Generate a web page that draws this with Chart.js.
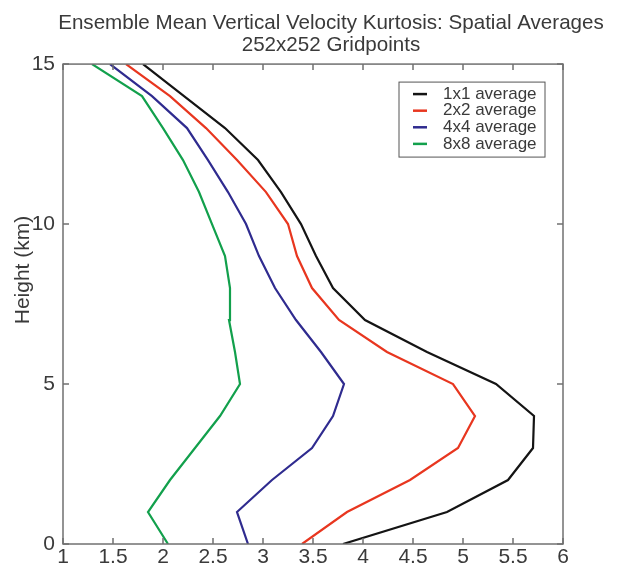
<!DOCTYPE html>
<html>
<head>
<meta charset="utf-8">
<script src="https://cdn.jsdelivr.net/npm/chart.js@4"></script>
<style>
  html, body { margin: 0; padding: 0; background: #fff; }
  #wrap { width: 630px; height: 575px; }
</style>
</head>
<body>
<div id="wrap"><canvas id="kurtosis-chart" width="630" height="575"></canvas></div>
<script>
// heights (km) at which kurtosis was sampled
const heights = [0, 1, 2, 3, 4, 5, 6, 7, 8, 9, 10, 11, 12, 13, 14, 15];
const seriesLabels = ['1x1 average', '2x2 average', '4x4 average', '8x8 average'];
const avg1x1 = [3.80, 4.84, 5.45, 5.70, 5.71, 5.33, 4.64, 4.02, 3.70, 3.53, 3.38, 3.18, 2.95, 2.62, 2.21, 1.80];
const avg2x2 = [3.39, 3.84, 4.47, 4.95, 5.12, 4.90, 4.24, 3.76, 3.49, 3.34, 3.25, 3.03, 2.74, 2.43, 2.07, 1.63];
const avg4x4 = [2.85, 2.74, 3.09, 3.49, 3.70, 3.81, 3.58, 3.33, 3.12, 2.96, 2.83, 2.65, 2.45, 2.24, 1.89, 1.47];
const avg8x8 = [2.05, 1.85, 2.07, 2.32, 2.57, 2.77, 2.72, 2.66, 2.67, 2.62, 2.49, 2.36, 2.20, 2.00, 1.79, 1.29];
const xTicks = [1, 1.5, 2, 2.5, 3, 3.5, 4, 4.5, 5, 5.5, 6];
const yTicks = [0, 5, 10, 15];

const colors = ['#141414', '#e8361f', '#2f2b8f', '#12a04c'];
const axisColor = '#707070';
const textColor = '#3a3a3a';
const fontFamily = '"Liberation Sans", Arial, Helvetica, sans-serif';

function toPoints(values) {
    return values.map((v, i) => ({ x: v, y: heights[i] }));
}

// box around the plot with inward ticks on all four sides, plus y title and legend
const matlabFrame = {
    id: 'matlabFrame',
    afterDraw(chart) {
        const { ctx, chartArea: a, scales } = chart;
        const tick = 6;
        ctx.save();
        ctx.strokeStyle = axisColor;
        ctx.lineWidth = 1.5;
        ctx.strokeRect(a.left, a.top, a.right - a.left, a.bottom - a.top);
        ctx.beginPath();
        xTicks.forEach(t => {
            const px = scales.x.getPixelForValue(t);
            ctx.moveTo(px, a.bottom); ctx.lineTo(px, a.bottom - tick);
            ctx.moveTo(px, a.top); ctx.lineTo(px, a.top + tick);
        });
        yTicks.forEach(t => {
            const py = scales.y.getPixelForValue(t);
            ctx.moveTo(a.left, py); ctx.lineTo(a.left + tick, py);
            ctx.moveTo(a.right, py); ctx.lineTo(a.right - tick, py);
        });
        ctx.stroke();

        // y axis title (sits above the axis centre in the original)
        ctx.fillStyle = textColor;
        ctx.font = '21px ' + fontFamily;
        ctx.textAlign = 'center';
        ctx.textBaseline = 'middle';
        ctx.translate(23, 270);
        ctx.rotate(-Math.PI / 2);
        ctx.fillText('Height (km)', 0, 0);
        ctx.restore();

        // legend box in the upper right corner
        ctx.save();
        const bx = a.right - 164, by = a.top + 18, bw = 146, bh = 75;
        ctx.fillStyle = '#fff';
        ctx.fillRect(bx, by, bw, bh);
        ctx.strokeStyle = '#555';
        ctx.lineWidth = 1;
        ctx.strokeRect(bx, by, bw, bh);
        ctx.font = '17px ' + fontFamily;
        ctx.textBaseline = 'middle';
        chart.data.datasets.forEach((ds, i) => {
            const y = by + 12 + i * 16.6;
            ctx.strokeStyle = ds.borderColor;
            ctx.lineWidth = 2.5;
            ctx.beginPath();
            ctx.moveTo(bx + 14, y);
            ctx.lineTo(bx + 28, y);
            ctx.stroke();
            ctx.fillStyle = textColor;
            ctx.fillText(ds.label, bx + 44, y);
        });
        ctx.restore();
    }
};

const tickFont = { family: fontFamily, size: 21 };

const ctx = document.getElementById('kurtosis-chart').getContext('2d');
new Chart(ctx, {
    type: 'line',
    data: {
        datasets: [avg1x1, avg2x2, avg4x4, avg8x8].map((vals, i) => ({
            label: seriesLabels[i],
            data: toPoints(vals),
            borderColor: colors[i],
            backgroundColor: colors[i],
            borderWidth: 2.2,
            pointRadius: 0,
            fill: false,
            tension: 0
        }))
    },
    options: {
        responsive: false,
        animation: false,
        layout: { padding: { left: 32, right: 0, top: 0, bottom: 0 } },
        scales: {
            x: {
                type: 'linear',
                min: 1,
                max: 6,
                afterBuildTicks: (scale) => { scale.ticks = xTicks.map(v => ({ value: v })); },
                afterFit: (scale) => { scale.height = 31; },
                grid: { display: false, drawTicks: false },
                border: { display: false },
                ticks: {
                    padding: 1,
                    color: textColor,
                    maxRotation: 0,
                    font: tickFont,
                    callback: (value) => String(value)
                }
            },
            y: {
                type: 'linear',
                min: 0,
                max: 15,
                afterBuildTicks: (scale) => { scale.ticks = yTicks.map(v => ({ value: v })); },
                afterFit: (scale) => { scale.width = 31; },
                grid: { display: false, drawTicks: false },
                border: { display: false },
                ticks: {
                    padding: 8,
                    color: textColor,
                    font: tickFont,
                    callback: (value) => String(value)
                }
            },
            // empty right-hand axis, only reserves the margin right of the box
            yRight: {
                type: 'linear',
                position: 'right',
                min: 0,
                max: 15,
                afterFit: (scale) => { scale.width = 67; },
                grid: { display: false, drawTicks: false },
                border: { display: false },
                ticks: { display: false }
            }
        },
        plugins: {
            legend: { display: false },
            tooltip: { enabled: false },
            title: {
                display: true,
                text: ['Ensemble Mean Vertical Velocity Kurtosis: Spatial Averages', '252x252 Gridpoints'],
                color: textColor,
                padding: { top: 12, bottom: 8 },
                font: { family: fontFamily, size: 20.6, weight: 'normal', lineHeight: 1.07 }
            }
        }
    },
    plugins: [matlabFrame]
});
</script>
</body>
</html>
